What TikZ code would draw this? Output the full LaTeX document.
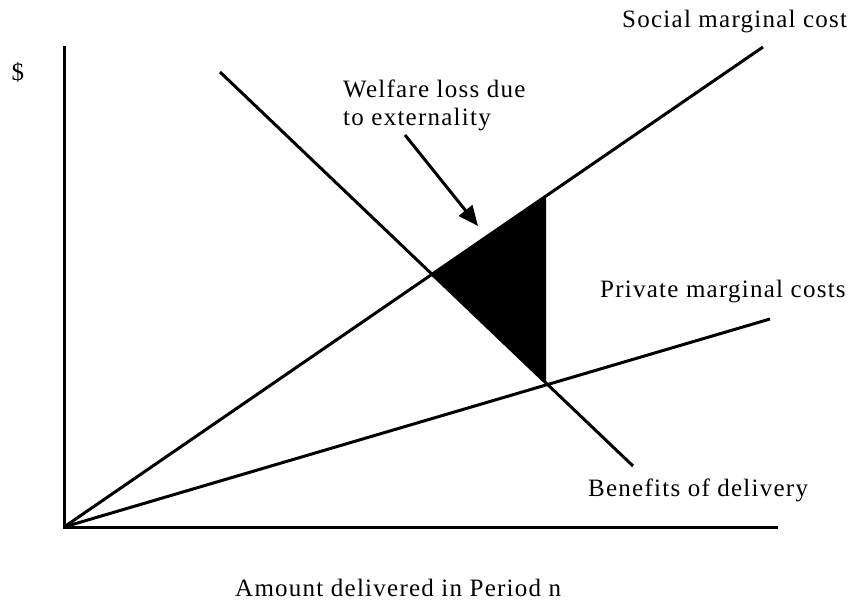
\documentclass[tikz,border=0pt]{standalone}
\usepackage{fontspec}
\setmainfont{Liberation Serif}[LetterSpace=5]
\usetikzlibrary{arrows.meta}
\begin{document}
\begin{tikzpicture}[x=1pt,y=-1pt,
  lbl/.style={font=\fontsize{25}{28}\selectfont, inner sep=0pt},
  curve/.style={line width=3pt},
  axis/.style={line width=3pt}]
\useasboundingbox (0,0) rectangle (865,604);
% key points
\coordinate (O) at (64,527);
\coordinate (Ytop) at (64,46);
\coordinate (Xend) at (778,527);
\coordinate (S) at (763,47);
\coordinate (P) at (770,319);
\coordinate (B1) at (220,72);
\coordinate (B2) at (633,466);
\coordinate (T1) at (432,273);
\coordinate (T2) at (546,196);
\coordinate (T3) at (546,384);
\coordinate (A1) at (405,135);
\coordinate (A2) at (478,226);
% welfare loss triangle
\fill (T1) -- (T2) -- (T3) -- cycle;
% axes
\draw[axis] (Ytop) -- (O) -- (Xend);
% curves
\draw[curve] (O) -- (S);
\draw[curve] (O) -- (P);
\draw[curve] (B1) -- (B2);
% arrow
\draw[line width=3pt, -{Triangle[length=20pt,width=17pt]}] (A1) -- (A2);
% labels
\node[lbl] (dollar) at (18,72) {\$};
\node[lbl,anchor=west] (smc) at (622,22) {Social marginal cost};
\node[lbl,anchor=north west,align=left] (wl) at (343,80) {Welfare loss due\\to externality};
\node[lbl,anchor=west] (pmc) at (600,292) {Private marginal costs};
\node[lbl,anchor=west] (ben) at (588,490) {Benefits of delivery};
\node[lbl,anchor=west] (amt) at (235,588) {Amount delivered in Period n};
\end{tikzpicture}
\end{document}
